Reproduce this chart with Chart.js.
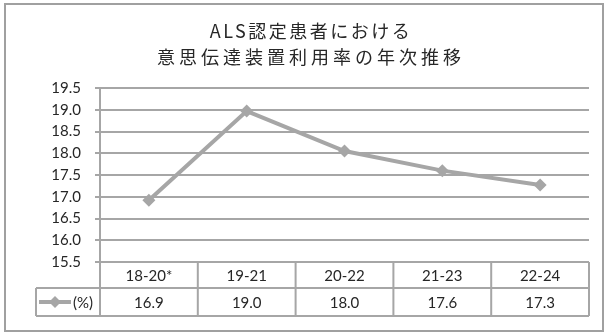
<!DOCTYPE html>
<html>
<head>
<meta charset="utf-8">
<script src="https://cdn.jsdelivr.net/npm/chart.js@4"></script>
<style>
  html, body { margin: 0; padding: 0; background: #fff; }
  #wrap { width: 608px; height: 336px; }
</style>
</head>
<body>
<div id="wrap"><canvas id="myChart" width="608" height="336"></canvas></div>
<script>
'use strict';

var categories = ['18-20*', '19-21', '20-22', '21-23', '22-24'];
var rates = [16.92, 18.97, 18.05, 17.6, 17.27];
var tableValues = ['16.9', '19.0', '18.0', '17.6', '17.3'];
var seriesName = '(%)';
var titleLines = ['ALS認定患者における', '意思伝達装置利用率の年次推移'];

var grey = '#a6a6a6';
var textColor = '#262626';
var numFont = '15px Lato, "Noto Sans", sans-serif';

// outer frame + title (excel puts wide letter spacing on it)
var framePlugin = {
  id: 'frame',
  beforeDraw: function(chart) {
    var c = chart.ctx;
    c.save();
    c.fillStyle = '#fff';
    c.fillRect(0, 0, chart.width, chart.height);
    c.strokeStyle = '#a0a0a0';
    c.lineWidth = 2;
    c.strokeRect(5, 4, chart.width - 10, chart.height - 9);

    c.fillStyle = textColor;
    c.font = '18px "Noto Sans CJK JP", sans-serif';
    c.textAlign = 'center';
    c.textBaseline = 'middle';
    c.letterSpacing = '2.5px';
    c.fillText(titleLines[0], 311, 31);
    c.letterSpacing = '4px';
    c.fillText(titleLines[1], 311, 57);
    c.letterSpacing = '0px';
    c.restore();
  }
};

// excel style data table under the plot
var tablePlugin = {
  id: 'dataTable',
  afterDraw: function(chart) {
    var c = chart.ctx;
    var area = chart.chartArea;
    var x = chart.scales.x;
    var step = x.getPixelForValue(1) - x.getPixelForValue(0);
    var top = area.bottom;
    var mid = top + 26;
    var bot = mid + 28;
    var legLeft = 36;

    c.save();
    c.strokeStyle = grey;
    c.lineWidth = 2;
    c.beginPath();
    c.moveTo(area.left, top); c.lineTo(area.right, top);
    c.moveTo(legLeft, mid); c.lineTo(area.right, mid);
    c.moveTo(legLeft, bot); c.lineTo(area.right, bot);
    c.moveTo(legLeft, mid); c.lineTo(legLeft, bot);
    for (var i = 0; i <= categories.length; i++) {
      var bx = x.getPixelForValue(i) - step / 2;
      if (i === categories.length) bx = x.getPixelForValue(i - 1) + step / 2;
      c.moveTo(bx, top); c.lineTo(bx, bot);
    }
    c.stroke();

    c.fillStyle = textColor;
    c.font = numFont;
    c.textAlign = 'center';
    c.textBaseline = 'middle';
    for (var j = 0; j < categories.length; j++) {
      var cx = x.getPixelForValue(j);
      c.fillText(categories[j], cx, (top + mid) / 2 + 1);
      c.fillText(tableValues[j], cx, (mid + bot) / 2 + 1);
    }

    // legend key
    var ly = (mid + bot) / 2;
    c.strokeStyle = grey;
    c.lineWidth = 4;
    c.beginPath();
    c.moveTo(legLeft + 3, ly); c.lineTo(legLeft + 35, ly);
    c.stroke();
    c.fillStyle = grey;
    c.beginPath();
    c.moveTo(legLeft + 19, ly - 6);
    c.lineTo(legLeft + 25, ly);
    c.lineTo(legLeft + 19, ly + 6);
    c.lineTo(legLeft + 13, ly);
    c.closePath();
    c.fill();
    c.fillStyle = textColor;
    c.textAlign = 'left';
    c.fillText(seriesName, legLeft + 37, ly + 1);
    c.restore();
  }
};

new Chart(document.getElementById('myChart'), {
  type: 'line',
  data: {
    labels: categories,
    datasets: [{
      label: seriesName,
      data: rates,
      borderColor: grey,
      backgroundColor: grey,
      borderWidth: 4,
      pointStyle: 'rectRot',
      pointRadius: 6.5,
      pointHoverRadius: 6.5,
      pointBorderWidth: 0,
      tension: 0
    }]
  },
  options: {
    responsive: false,
    animation: false,
    layout: { padding: { left: 0, right: 19, top: 88, bottom: 74 } },
    plugins: {
      legend: { display: false },
      tooltip: { enabled: false },
      title: { display: false }
    },
    scales: {
      x: {
        display: false,
        offset: true
      },
      y: {
        min: 15.5,
        max: 19.5,
        afterFit: function(scale) { scale.width = 100; },
        ticks: {
          stepSize: 0.5,
          color: textColor,
          padding: 14,
          font: { family: 'Lato, "Noto Sans", sans-serif', size: 15 },
          callback: function(v) { return v.toFixed(1); }
        },
        grid: { color: grey, lineWidth: 2, tickLength: 5 },
        border: { color: grey, width: 2 }
      }
    }
  },
  plugins: [framePlugin, tablePlugin]
});
</script>
</body>
</html>
